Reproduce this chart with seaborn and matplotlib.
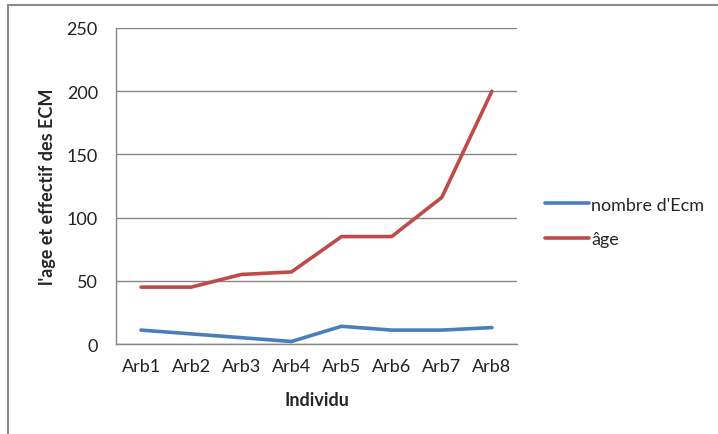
import matplotlib
matplotlib.use("Agg")
import matplotlib.pyplot as plt
from matplotlib.lines import Line2D
import seaborn as sns
import pandas as pd

individus = ["Arb1", "Arb2", "Arb3", "Arb4", "Arb5", "Arb6", "Arb7", "Arb8"]
nombre_ecm = [11, 8, 5, 2, 14, 11, 11, 13]
age = [45, 45, 55, 57, 85, 85, 116, 200]
y_ticks = [0, 50, 100, 150, 200, 250]

series_names = ["nombre d'Ecm", "âge"]
series_colors = ["#4A7EBB", "#BE4B48"]

df = pd.DataFrame({
    "Individu": individus * 2,
    "pos": list(range(len(individus))) * 2,
    "valeur": nombre_ecm + age,
    "serie": [series_names[0]] * len(individus) + [series_names[1]] * len(individus),
})

sns.set_style("white")
plt.rcParams["font.family"] = ["Lato", "DejaVu Sans"]
fs = 13

fig = plt.figure(figsize=(7.18, 4.35), dpi=100)
ax = fig.add_axes([116 / 718, 1 - 345 / 435, (517 - 116) / 718, (345 - 29) / 435])

sns.lineplot(data=df, x="pos", y="valeur", hue="serie", palette=series_colors,
             linewidth=2.6, ax=ax, legend=False, zorder=3)

grey = "#868686"
ax.set_xlim(-0.5, len(individus) - 0.5)
ax.set_ylim(0, 250)
ax.set_yticks(y_ticks)
ax.set_yticklabels([str(t) for t in y_ticks], fontsize=fs, color="#222222")
ax.set_xticks(range(len(individus)))
ax.set_xticklabels(individus, fontsize=fs, color="#222222")
ax.tick_params(axis="x", which="major", length=0, pad=10)
ax.set_xticks([i - 0.5 for i in range(len(individus) + 1)], minor=True)
ax.tick_params(axis="x", which="minor", length=6, color=grey, direction="out")
ax.tick_params(axis="y", length=5, color=grey, direction="out", pad=8)
ax.yaxis.grid(True, color=grey, linewidth=1)
ax.xaxis.grid(False)
for side in ["top", "right"]:
    ax.spines[side].set_visible(False)
for side in ["left", "bottom"]:
    ax.spines[side].set_color(grey)
    ax.spines[side].set_linewidth(1)

ax.set_xlabel("Individu", fontsize=fs, fontweight="bold", labelpad=12)
ax.set_ylabel("l'age et effectif des ECM", fontsize=fs, fontweight="bold", labelpad=8)

handles = [Line2D([0], [0], color=c, linewidth=2.6) for c in series_colors]
fig.legend(handles, series_names, loc="center left",
           bbox_to_anchor=(540 / 718, 1 - 223 / 435), frameon=False,
           fontsize=fs, handlelength=2.4, handletextpad=0.15, labelspacing=1.05,
           borderaxespad=0, borderpad=0.3)

# chart frame
fig.add_artist(Line2D([8 / 718, 8 / 718], [0, 1 - 6 / 435], transform=fig.transFigure,
                      color="#8c8c8c", linewidth=1.5))
fig.add_artist(Line2D([8 / 718, 1], [1 - 6 / 435, 1 - 6 / 435], transform=fig.transFigure,
                      color="#8c8c8c", linewidth=1.5))

fig.savefig("out.png", dpi=100)
